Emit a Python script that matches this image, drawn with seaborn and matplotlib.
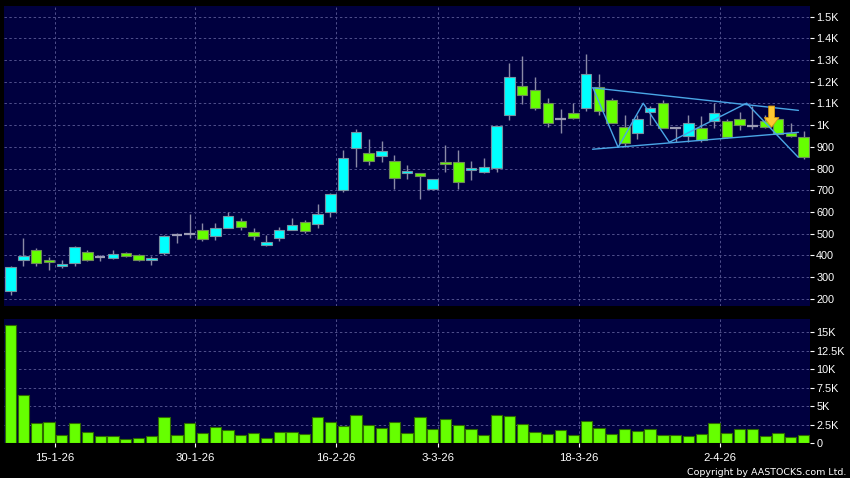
import matplotlib
matplotlib.use('Agg')
import matplotlib.pyplot as plt
import seaborn as sns
import numpy as np

# daily candles (price in HKD-ish units, volume in K)
opens = [234, 378, 426, 378, 349, 364, 415, 393, 386, 410, 401, 378, 409, 492, 499, 518,
         487, 524, 559, 507, 447, 478, 519, 553, 544, 599, 699, 894, 871, 860, 837, 779,
         779, 705, 829, 829, 792, 783, 802, 1046, 1179, 1162, 1101, 1027, 1055, 1078, 1175,
         1116, 993, 963, 1059, 1101, 989, 950, 989, 1020, 1017, 1027, 997, 1021, 1027, 966, 947]
highs = [352, 481, 433, 393, 380, 442, 426, 403, 426, 415, 407, 395, 496, 502, 591, 551,
         548, 599, 571, 525, 495, 533, 571, 561, 637, 686, 886, 983, 935, 927, 861, 817,
         779, 754, 909, 886, 837, 849, 998, 1288, 1319, 1221, 1124, 1075, 1101, 1328, 1236,
         1124, 1047, 1047, 1089, 1116, 991, 1047, 1040, 1101, 1027, 1059, 1089, 1047, 1032, 1009, 975]
lows = [218, 353, 353, 332, 344, 349, 375, 372, 383, 392, 375, 356, 403, 459, 481, 464,
        472, 524, 518, 469, 445, 464, 519, 502, 528, 579, 690, 809, 817, 831, 708, 752,
        662, 702, 782, 708, 748, 779, 786, 1024, 1099, 1070, 990, 966, 1027, 1067, 1047,
        1009, 901, 935, 1001, 986, 924, 924, 921, 989, 943, 978, 981, 986, 957, 944, 843]
closes = [346, 398, 364, 369, 360, 438, 378, 393, 406, 395, 378, 389, 488, 492, 499, 475,
          525, 582, 533, 487, 461, 518, 539, 510, 590, 682, 848, 967, 837, 880, 756, 788,
          766, 751, 820, 737, 802, 806, 995, 1221, 1138, 1081, 1009, 1027, 1032, 1234, 1064,
          1009, 917, 1027, 1078, 986, 989, 1012, 932, 1055, 947, 1001, 997, 993, 960, 950, 852]
volumes = [16.0, 6.6, 2.75, 2.9, 1.1, 2.8, 1.6, 1.0, 1.0, 0.6, 0.75, 1.0, 3.55, 1.2, 2.75, 1.45,
           2.25, 1.8, 1.2, 1.35, 0.8, 1.55, 1.55, 1.25, 3.55, 2.85, 2.4, 3.8, 2.5, 2.15, 2.9, 1.45,
           3.55, 1.9, 3.35, 2.55, 1.9, 1.1, 3.8, 3.7, 2.6, 1.6, 1.25, 1.8, 1.1, 3.0, 2.1,
           1.25, 2.0, 1.65, 2.0, 1.1, 1.1, 1.0, 1.25, 2.8, 1.35, 1.95, 2.0, 1.05, 1.35, 0.9, 1.1]

date_labels = ['15-1-26', '30-1-26', '16-2-26', '3-3-26', '18-3-26', '2-4-26']
date_idx = [3, 14, 25, 33, 44, 55]

price_ticks = [200, 300, 400, 500, 600, 700, 800, 900, 1000, 1100, 1200, 1300, 1400, 1500]
price_labels = ['200', '300', '400', '500', '600', '700', '800', '900',
                '1K', '1.1K', '1.2K', '1.3K', '1.4K', '1.5K']
vol_ticks = [0, 2.5, 5, 7.5, 10, 12.5, 15]
vol_labels = ['0', '2.5K', '5K', '7.5K', '10K', '12.5K', '15K']

# triangle + zigzag drawn on the chart
tri_upper_x = [45.5, 61.6]
tri_upper_y = [1172, 1068]
tri_lower_x = [45.5, 61.6]
tri_lower_y = [889, 967]
zig_x = [45.55, 47.5, 49.46, 51.5, 57.55, 61.58]
zig_y = [1170, 898, 1101, 921, 1101, 852]
arrow_x = 59.5
arrow_top, arrow_tip = 1088, 990

sns.set_style('dark')
plt.rcParams['font.family'] = ['Liberation Sans', 'DejaVu Sans']

BG = '#00003f'
GRID = '#50508c'
CYAN = '#00ffff'
GREEN = '#66ff00'

fig = plt.figure(figsize=(8.5, 4.78), dpi=100, facecolor='black')
ax = fig.add_axes([0.0047, 0.3588, 0.9482, 0.6287])
axv = fig.add_axes([0.0047, 0.0722, 0.9482, 0.2605])

idx = np.arange(len(opens))
o = np.array(opens)
c = np.array(closes)

# wicks
ax.vlines(idx, lows, highs, color='#8a8aa6', lw=1, zorder=2)
# bodies
up = c > o
down = c < o
ax.bar(idx[up], (c - o)[up], bottom=o[up], width=0.82, color=CYAN,
       edgecolor='#7592a2', lw=0.8, zorder=3)
ax.bar(idx[down], (o - c)[down], bottom=c[down], width=0.82, color=GREEN,
       edgecolor='#6f8a5a', lw=0.8, zorder=3)
doji = c == o
ax.hlines(o[doji], idx[doji] - 0.41, idx[doji] + 0.41, color='#9c9cb4', lw=1.6, zorder=3)

sns.lineplot(x=tri_upper_x, y=tri_upper_y, ax=ax, color='#4aa6e6', lw=1, zorder=4)
sns.lineplot(x=tri_lower_x, y=tri_lower_y, ax=ax, color='#4aa6e6', lw=1, zorder=4)
sns.lineplot(x=zig_x, y=zig_y, ax=ax, color='#4aa6e6', lw=1, zorder=4, sort=False)

ax.annotate('', xy=(arrow_x, arrow_tip), xytext=(arrow_x, arrow_top),
            arrowprops=dict(arrowstyle='simple,head_length=0.7,head_width=1.05,tail_width=0.42',
                            mutation_scale=10, fc='#ffc832', ec='#d89a10', lw=0.6,
                            shrinkA=0, shrinkB=0), zorder=5)

# volume
sns.barplot(x=idx, y=volumes, ax=axv, native_scale=True, color=GREEN, saturation=1,
            width=0.88, edgecolor='#2e6a00', linewidth=0.8, errorbar=None, zorder=3)

grid_pos = [d + 0.45 for d in date_idx]
for a in (ax, axv):
    a.set_facecolor(BG)
    a.set_xlim(-0.52, 62.5)
    for s in a.spines.values():
        s.set_visible(False)
    a.set_xticks(grid_pos)
    a.grid(True, axis='both', color=GRID, linestyle=(0, (2.5, 2.5)), lw=0.7, zorder=0)
    a.set_axisbelow(True)
    a.yaxis.tick_right()
    a.tick_params(axis='y', colors='white', labelcolor='white', length=3, width=0.8,
                  pad=1.5, labelsize=7.8, right=True, left=False)
    a.set_xlabel('')
    a.set_ylabel('')

ax.set_ylim(164.5, 1549)
ax.set_yticks(price_ticks)
ax.set_yticklabels(price_labels)
ax.tick_params(axis='x', length=0, labelbottom=False)

axv.set_ylim(0, 16.82)
axv.set_yticks(vol_ticks)
axv.set_yticklabels(vol_labels)
axv.set_xticklabels(date_labels)
axv.tick_params(axis='x', colors='white', labelcolor='white', length=3, width=0.8,
                pad=4, labelsize=8.2, bottom=True)

fig.text(0.996, 0.0125, 'Copyright by AASTOCKS.com Ltd.', color='white', ha='right',
         va='center', fontsize=6.8, family='DejaVu Sans')

fig.savefig('out.png', dpi=100, facecolor='black')
